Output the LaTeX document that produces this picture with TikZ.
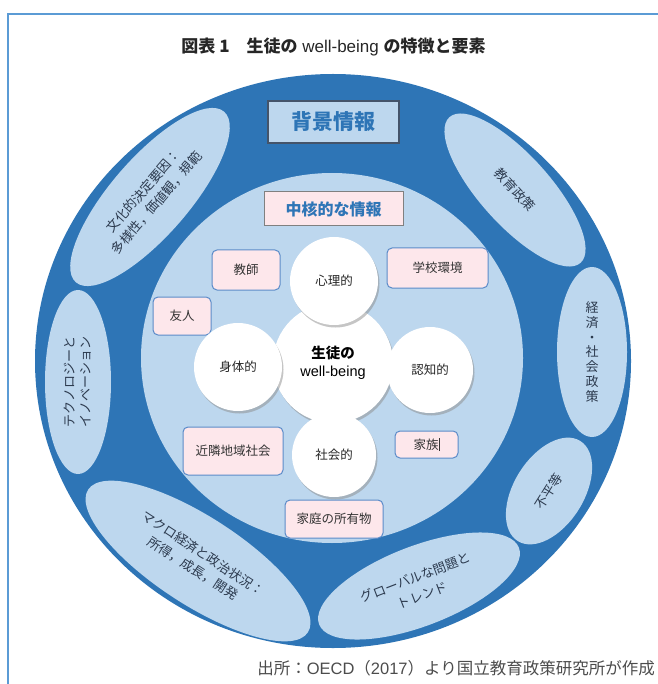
\documentclass[tikz,border=0pt]{standalone}
\usepackage{fontspec}
\setmainfont{Liberation Sans}
\newfontfamily\jp{Noto Sans CJK JP}
\usetikzlibrary{shapes.geometric,shadows}
\definecolor{ringblue}{HTML}{2E75B6}
\definecolor{lightblue}{HTML}{BDD7EE}
\definecolor{pinkfill}{HTML}{FDE7EB}
\definecolor{boxborder}{HTML}{5B8BC9}
\definecolor{framecol}{HTML}{5B9BD5}
\definecolor{ellText}{HTML}{2C3A4E}
\definecolor{hdrText}{HTML}{2E75B6}
\definecolor{hdrBorder}{HTML}{44546A}
\begin{document}
\begin{tikzpicture}[x=1pt,y=1pt,
  ell/.style={ellipse, fill=lightblue, draw=none, inner sep=0pt, align=center,
    font=\jp\fontsize{13}{18}\selectfont, text=ellText},
  pbox/.style={draw=boxborder, line width=1pt, fill=pinkfill, rounded corners=5pt,
    font=\jp\fontsize{12.5}{15}\selectfont, text=black!80, inner sep=0pt},
  wcirc/.style={circle, fill=white, inner sep=0pt, align=center,
    drop shadow={shadow xshift=1.5pt, shadow yshift=-2.5pt, fill=black!45},
    font=\jp\fontsize{12.5}{15}\selectfont, text=black!85}
]
\useasboundingbox (0,0) rectangle (657,-684);
% frame
\draw[framecol, line width=2pt] (8,-690) -- (8,-14) -- (665,-14);
% title
\node[font=\fontsize{17}{20}\selectfont, text=black!85] (title) at (333.5,-47)
  {{\jp\bfseries 図表 1　生徒の} well-being {\jp\bfseries の特徴と要素}};
% rings
\node[ellipse, fill=ringblue, minimum width=596, minimum height=574, inner sep=0pt] (outer) at (333,-361) {};
\node[ellipse, fill=lightblue, minimum width=382, minimum height=370, inner sep=0pt] (inner) at (332,-358) {};
% outer ellipses
\node[ell, minimum width=226, minimum height=78, rotate=49] (e1) at (150,-197)
  {文化的決定要因：\\多様性，価値観，規範};
\node[ell, minimum width=196, minimum height=70, rotate=-48] (e2) at (515,-190) {教育政策};
\node[ell, minimum width=70, minimum height=170, font=\jp\fontsize{13}{14.7}\selectfont] (e3) at (592,-352)
  {経\\済\\・\\社\\会\\政\\策};
\node[ell, minimum width=118, minimum height=70, rotate=58] (e4) at (549,-491) {不平等};
\node[ell, minimum width=214, minimum height=80, rotate=21, font=\jp\fontsize{13}{19}\selectfont] (e5) at (419,-586)
  {グローバルな問題と\\トレンド};
\node[ell, minimum width=262, minimum height=88, rotate=-33] (e6) at (198,-561)
  {マクロ経済と政治状況：\\所得，成長，開発};
\node[ell, minimum width=184, minimum height=66, rotate=90, font=\jp\fontsize{13}{16}\selectfont] (e7) at (78,-382)
  {テクノロジーと\\イノベーション};
% header boxes
\node[draw=hdrBorder, line width=1.3pt, fill=lightblue, minimum width=131, minimum height=42, inner sep=0pt,
  font=\jp\bfseries\fontsize{21}{24}\selectfont, text=hdrText] (bg) at (333.5,-122) {背景情報};
\node[draw=black!50, line width=1pt, fill=pinkfill, minimum width=139, minimum height=34, inner sep=0pt,
  font=\jp\bfseries\fontsize{16}{20}\selectfont, text=hdrText] (core) at (333.5,-209) {中核的な情報};
% pink boxes
\node[pbox, minimum width=68, minimum height=40] (teacher) at (246,-270) {教師};
\node[pbox, minimum width=101, minimum height=40] (school) at (437.5,-268) {学校環境};
\node[pbox, minimum width=58, minimum height=38] (friend) at (182,-316) {友人};
\node[pbox, minimum width=100, minimum height=48] (neigh) at (233,-451) {近隣地域社会};
\node[pbox, minimum width=63, minimum height=27] (family) at (426.5,-444.5) {家族\rule[-2pt]{0.6pt}{13pt}};
\node[pbox, minimum width=98, minimum height=38] (home) at (334,-519) {家庭の所有物};
% circles
\node[wcirc, minimum size=120, font=\fontsize{14.5}{18}\selectfont, text=black] (center) at (333,-363)
  {{\jp\bfseries 生徒の}\\well-being};
\node[wcirc, minimum size=88] (psy) at (334,-281) {心理的};
\node[wcirc, minimum size=88] (phy) at (238,-367) {身体的};
\node[wcirc, minimum size=86] (cog) at (430,-370) {認知的};
\node[wcirc, minimum size=84] (soc) at (334,-455) {社会的};
% footer
\node[anchor=east, font=\fontsize{16.5}{19}\selectfont, text=black!70, inner sep=0pt] (src) at (655,-668)
  {{\jp 出所：}OECD{\jp （}2017{\jp ）より国立教育政策研究所が作成}};
\end{tikzpicture}
\end{document}
